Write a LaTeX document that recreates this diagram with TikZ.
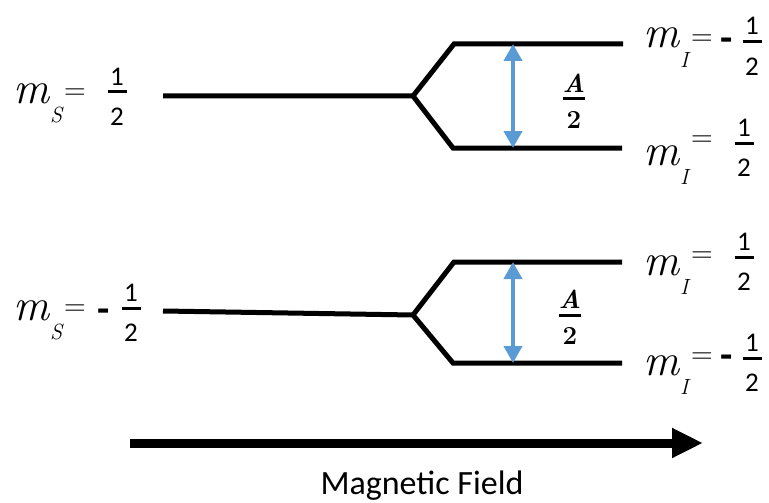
\documentclass[tikz,border=0pt]{standalone}
\usepackage{fontspec}
\usetikzlibrary{arrows.meta}
\newfontfamily\calibri{Carlito}
\definecolor{gapblue}{HTML}{5B9BD5}

\tikzset{
  level/.style={line width=5pt},
  gap/.style={gapblue, line width=4pt,
    {Triangle[length=17pt,width=18pt]}-{Triangle[length=17pt,width=18pt]}},
  field/.style={line width=9pt, -{Triangle[length=31pt,width=28pt]}},
  mvar/.style={inner sep=0, anchor=base west, font=\itshape\fontsize{45}{45}\selectfont},
  msub/.style={inner sep=0, anchor=base west, font=\itshape\fontsize{22}{22}\selectfont},
  meq/.style={inner sep=0, anchor=base, font=\fontsize{30}{30}\selectfont},
  msign/.style={inner sep=0, font=\calibri\bfseries\fontsize{40}{40}\selectfont},
  num/.style={inner sep=0, font=\calibri\fontsize{27}{27}\selectfont},
  anum/.style={inner sep=0, font=\bfseries\fontsize{26}{26}\selectfont},
  bar/.style={line width=3pt},
  fieldtext/.style={inner sep=0, anchor=base, font=\calibri\fontsize{34}{34}\selectfont}
}

% m label: prefix, m x, baseline, subscript, = x offset, = centre y, fraction x, bar y
\newcommand{\qlabel}[8]{%
  \node[mvar] (#1m) at (#2,#3) {m};
  \node[msub] (#1s) at (#2+37,#3+19) {#4};
  \node[meq] (#1e) at (#2+#5,#6+7.5) {=};
  \node[num, anchor=base] (#1n) at (#7,#8-7) {1};
  \node[num, anchor=north] (#1d) at (#7,#8+16) {2};
  \draw[bar] (#7-9.5,#8) -- (#7+9.5,#8);
}
% A over 2: prefix, x, bar y
\newcommand{\afrac}[3]{%
  \node[anum, anchor=base] (#1n) at (#2,#3-6.5) {\itshape A};
  \node[anum, anchor=north] (#1d) at (#2,#3+12) {2};
  \draw[bar] (#2-11,#3) -- (#2+11,#3);
}

\begin{document}
\begin{tikzpicture}[x=1pt, y=-1pt]
  \useasboundingbox (0,0) rectangle (769,503);

  % m_S = 1/2
  \coordinate (s1) at (163,96);
  \coordinate (b1) at (413,96);
  \coordinate (u1) at (454,44);
  \coordinate (ue1) at (623,44);
  \coordinate (l1) at (453,148);
  \coordinate (le1) at (622,148);
  \draw[level] (s1) -- (b1) -- (u1) -- (ue1);
  \draw[level] (b1) -- (l1) -- (le1);
  \coordinate (g1t) at (513,44);
  \coordinate (g1b) at (513,148);
  \draw[gap] (g1t) -- (g1b);

  % m_S = -1/2
  \coordinate (s2) at (163,311);
  \coordinate (b2) at (413,315);
  \coordinate (u2) at (454,262);
  \coordinate (ue2) at (622,262);
  \coordinate (l2) at (453,363);
  \coordinate (le2) at (622,363);
  \draw[level] (s2) -- (b2) -- (u2) -- (ue2);
  \draw[level] (b2) -- (l2) -- (le2);
  \coordinate (g2t) at (513,262);
  \coordinate (g2b) at (513,363);
  \draw[gap] (g2t) -- (g2b);

  \afrac{a1}{574}{99}
  \afrac{a2}{570}{315}

  \qlabel{ms1}{13}{103}{S}{62}{92}{117}{92}
  \qlabel{ms2}{13}{320}{S}{62}{308}{131}{308}
  \node[msign] (ms2g) at (104,316) {-};

  \qlabel{mi1}{643}{48}{I}{59}{38}{752}{42}
  \node[msign] (mi1g) at (727,45) {-};
  \qlabel{mi2}{643}{165}{I}{59}{139}{744}{143}
  \qlabel{mi3}{643}{275}{I}{59}{255}{744}{257}
  \qlabel{mi4}{643}{375}{I}{59}{356}{752}{358}
  \node[msign] (mi4g) at (727,362) {-};

  % field
  \coordinate (f0) at (130,443);
  \coordinate (f1) at (703,443);
  \draw[field] (f0) -- (f1);
  \node[fieldtext] (field) at (422,494) {Magnetic Field};
\end{tikzpicture}
\end{document}
